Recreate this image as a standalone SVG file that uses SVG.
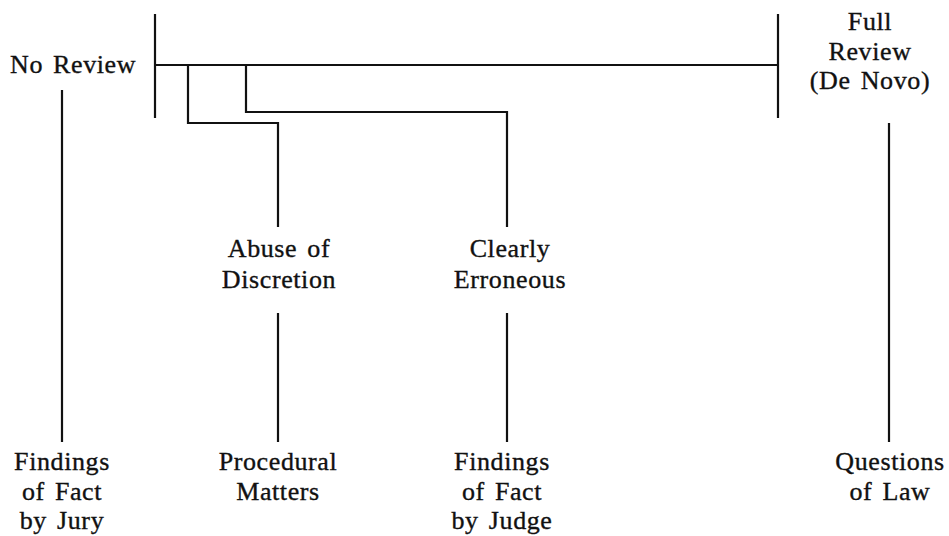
<svg xmlns="http://www.w3.org/2000/svg" width="949" height="536" viewBox="0 0 949 536">
<style>
.t{font-family:"Liberation Serif","Times New Roman",serif;font-size:26px;letter-spacing:0.6px;word-spacing:3px;fill:#111;stroke:#111;stroke-width:0.35}
.c{text-anchor:middle}
.l{stroke:#111;stroke-width:2.2;fill:none;stroke-linecap:butt}
</style>
<rect width="949" height="536" fill="#fff"/>
<g id="connectors">
<line class="l" x1="155" y1="14" x2="155" y2="118"/>
<line class="l" x1="778" y1="14" x2="778" y2="118"/>
<line class="l" x1="155" y1="65" x2="778" y2="65"/>
<polyline class="l" points="188,65 188,123 278,123 278,227"/>
<polyline class="l" points="246,65 246,112 507,112 507,227"/>
<line class="l" x1="62" y1="90" x2="62" y2="442"/>
<line class="l" x1="278" y1="313" x2="278" y2="442"/>
<line class="l" x1="507" y1="313" x2="507" y2="442"/>
<line class="l" x1="889" y1="123" x2="889" y2="442"/>
</g>
<g id="no-review"><text class="t" x="10" y="73">No Review</text></g>
<g id="full-review"><text class="t c" x="870" y="30">Full</text><text class="t c" x="870" y="60">Review</text><text class="t c" x="870" y="89">(De Novo)</text></g>
<g id="abuse"><text class="t c" x="279" y="257">Abuse of</text><text class="t c" x="279" y="288">Discretion</text></g>
<g id="clearly"><text class="t c" x="510" y="257">Clearly</text><text class="t c" x="510" y="288">Erroneous</text></g>
<g id="jury"><text class="t c" x="62" y="470">Findings</text><text class="t c" x="62" y="500">of Fact</text><text class="t c" x="62" y="529">by Jury</text></g>
<g id="procedural"><text class="t c" x="278" y="470">Procedural</text><text class="t c" x="278" y="500">Matters</text></g>
<g id="judge"><text class="t c" x="502" y="470">Findings</text><text class="t c" x="502" y="500">of Fact</text><text class="t c" x="502" y="529">by Judge</text></g>
<g id="law"><text class="t c" x="890" y="470">Questions</text><text class="t c" x="890" y="500">of Law</text></g>
</svg>
